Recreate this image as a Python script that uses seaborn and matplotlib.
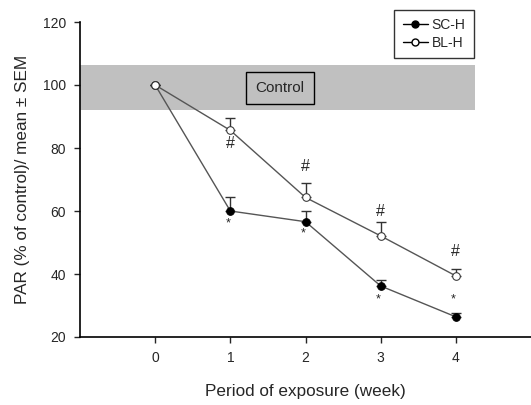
import numpy as np
import pandas as pd
import matplotlib
matplotlib.use("Agg")
import matplotlib.pyplot as plt
import seaborn as sns
from matplotlib.lines import Line2D

# данные
weeks = [0, 1, 2, 3, 4]
sc_h = [100, 60, 56.6, 36.2, 26.4]
sc_h_sem = [0, 4.5, 3.4, 2.0, 1.3]
bl_h = [100, 85.6, 64.3, 52.1, 39.4]
bl_h_sem = [0, 3.9, 4.7, 4.4, 2.2]
hash_y = [81.5, 74, 60, 47]
star_y = [56, 53, 32, 32]

sns.set_style("ticks")
plt.rcParams['font.family'] = ['Liberation Sans', 'DejaVu Sans']

fig = plt.figure(figsize=(5.31, 4.05), dpi=100)
ax = fig.add_axes([80/531, 1 - 337/405, 1 - 80/531, (337 - 22)/405])

# серая полоса контроля
ax.axhspan(92.2, 106.5, xmin=0, xmax=(4.26 + 1) / 6, color='#c0c0c0', lw=0, zorder=0)
ax.text(1.66, 99, "Control", ha='center', va='center', fontsize=11,
        bbox=dict(boxstyle='square,pad=0.6', fc='none', ec='black', lw=1))

df = pd.DataFrame({"week": weeks, "SC-H": sc_h, "BL-H": bl_h})

ax.errorbar(weeks, sc_h, yerr=[np.zeros(5), sc_h_sem], fmt='none', ecolor='#333333',
            capsize=3.5, elinewidth=1, capthick=1, zorder=2)
ax.errorbar(weeks, bl_h, yerr=[np.zeros(5), bl_h_sem], fmt='none', ecolor='#333333',
            capsize=3.5, elinewidth=1, capthick=1, zorder=2)

sns.lineplot(data=df, x="week", y="SC-H", ax=ax, color='#555555', lw=1,
             marker='o', markersize=5.5, markerfacecolor='black', markeredgecolor='black', zorder=3)
sns.lineplot(data=df, x="week", y="BL-H", ax=ax, color='#555555', lw=1,
             marker='o', markersize=5.5, markerfacecolor='white', markeredgecolor='#333333', zorder=3)

for w, y in zip(weeks[1:], hash_y):
    ax.text(w, y, "#", ha='center', va='center', fontsize=11.5)
for w, y in zip(weeks[1:], star_y):
    ax.text(w - 0.03, y, "*", ha='center', va='center', fontsize=9)

ax.set_xlim(-1, 5)
ax.set_ylim(20, 120)
ax.set_xticks(weeks)
ax.set_yticks([20, 40, 60, 80, 100, 120])
ax.tick_params(labelsize=10, length=4, width=1, pad=6)
ax.set_xlabel("Period of exposure (week)", fontsize=12.3, labelpad=14)
ax.set_ylabel("PAR (% of control)/ mean \u00b1 SEM", fontsize=12.3, labelpad=9)
for s in ['left', 'bottom']:
    ax.spines[s].set_color('black')
    ax.spines[s].set_linewidth(1.2)
sns.despine(ax=ax)

handles = [
    Line2D([], [], color='black', lw=1, marker='o', markersize=5, markerfacecolor='black'),
    Line2D([], [], color='black', lw=1, marker='o', markersize=5, markerfacecolor='white'),
]
leg = fig.legend(handles, ["SC-H", "BL-H"], loc='upper right',
                 bbox_to_anchor=(474/531, 1 - 10/405), fontsize=10, frameon=True,
                 fancybox=False, handlelength=1.8, handletextpad=0.3,
                 borderpad=0.6, labelspacing=0.25, borderaxespad=0)
leg.get_frame().set_edgecolor('black')
leg.get_frame().set_linewidth(1)

fig.savefig("out.png", dpi=100)
